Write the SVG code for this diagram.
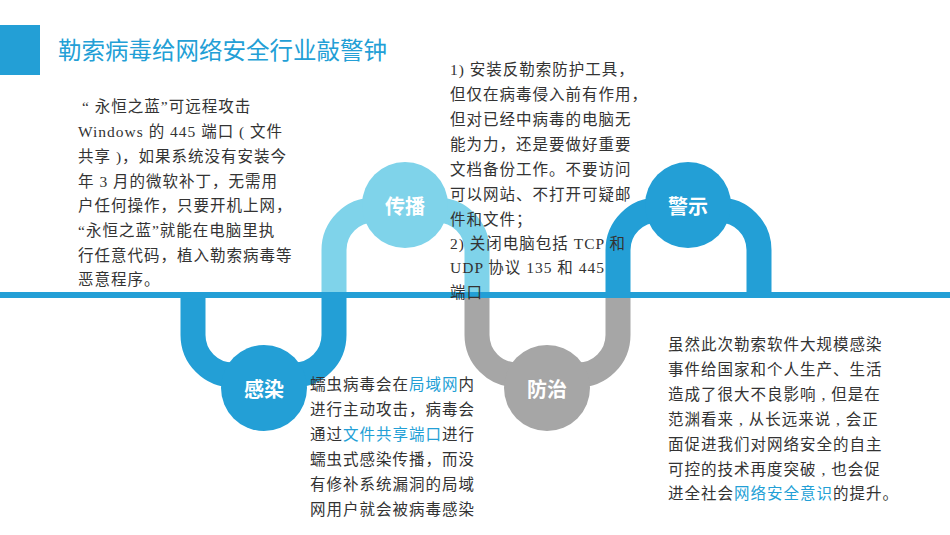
<svg xmlns="http://www.w3.org/2000/svg" width="950" height="535" viewBox="0 0 950 535">
<style>
.t{font-family:"Liberation Serif","Noto Sans CJK SC",serif;font-size:15.5px;fill:#333;letter-spacing:1px}
.hl{fill:#239fd6}
.lb{font-family:"Noto Sans CJK SC",sans-serif;font-size:20px;font-weight:bold;fill:#fff;text-anchor:middle;dominant-baseline:central}
.p{fill:none;stroke-width:25}
</style>
<rect width="950" height="535" fill="#fff"/>
<rect x="0" y="25" width="40" height="50" fill="#239fd6"/>
<text x="58" y="59" font-family="Noto Sans CJK SC,sans-serif" font-size="23.5" fill="#239fd6">勒索病毒给网络安全行业敲警钟</text>
<g id="connectors">
<path class="p" stroke="#239fd6" d="M193,295 V335 A40,40 0 0 0 233,375 H294 A40,40 0 0 0 334,335 V295"/>
<path class="p" stroke="#7fd3ea" d="M334,295 V250 A40,40 0 0 1 374,210 H437 A40,40 0 0 1 477,250 V295"/>
<path class="p" stroke="#a6a6a6" d="M477,295 V335 A40,40 0 0 0 517,375 H578 A40,40 0 0 0 618,335 V295"/>
<path class="p" stroke="#239fd6" d="M618,295 V250 A40,40 0 0 1 658,210 H719 A40,40 0 0 1 759,250 V295"/>
<rect x="0" y="292" width="950" height="6" fill="#239fd6"/>
</g>
<g id="n1"><circle cx="264" cy="388" r="43" fill="#239fd6"/><text class="lb" x="264" y="388">感染</text></g>
<g id="n2"><circle cx="405" cy="205" r="43" fill="#7fd3ea"/><text class="lb" x="405" y="205">传播</text></g>
<g id="n3"><circle cx="547" cy="388" r="43" fill="#a6a6a6"/><text class="lb" x="547" y="388">防治</text></g>
<g id="n4"><circle cx="688" cy="205" r="43" fill="#239fd6"/><text class="lb" x="688" y="205">警示</text></g>
<g id="txt1">
<text class="t" x="82" y="112">“ 永恒之蓝”可远程攻击</text>
<text class="t" x="78" y="137">Windows 的 445 端口 ( 文件</text>
<text class="t" x="78" y="162">共享 )，如果系统没有安装今</text>
<text class="t" x="78" y="187">年 3 月的微软补丁，无需用</text>
<text class="t" x="78" y="211">户任何操作，只要开机上网，</text>
<text class="t" x="78" y="236">“永恒之蓝”就能在电脑里执</text>
<text class="t" x="78" y="261">行任意代码，植入勒索病毒等</text>
<text class="t" x="78" y="285">恶意程序。</text>
</g>
<g id="txt2">
<text class="t" x="450" y="75">1) 安装反勒索防护工具，</text>
<text class="t" x="450" y="100">但仅在病毒侵入前有作用，</text>
<text class="t" x="450" y="125">但对已经中病毒的电脑无</text>
<text class="t" x="450" y="150">能为力，还是要做好重要</text>
<text class="t" x="450" y="175">文档备份工作。不要访问</text>
<text class="t" x="450" y="200">可以网站、不打开可疑邮</text>
<text class="t" x="450" y="225">件和文件；</text>
<text class="t" x="450" y="249">2)  关闭电脑包括 TCP 和</text>
<text class="t" x="450" y="273">UDP 协议 135 和 445</text>
<text class="t" x="450" y="298">端口</text>
</g>
<g id="txt3">
<text class="t" x="310" y="390">蠕虫病毒会在<tspan class="hl">局域网</tspan>内</text>
<text class="t" x="310" y="415">进行主动攻击，病毒会</text>
<text class="t" x="310" y="440">通过<tspan class="hl">文件共享端口</tspan>进行</text>
<text class="t" x="310" y="465">蠕虫式感染传播，而没</text>
<text class="t" x="310" y="490">有修补系统漏洞的局域</text>
<text class="t" x="310" y="515">网用户就会被病毒感染</text>
</g>
<g id="txt4">
<text class="t" x="668" y="350">虽然此次勒索软件大规模感染</text>
<text class="t" x="668" y="375">事件给国家和个人生产、生活</text>
<text class="t" x="668" y="400">造成了很大不良影响 , 但是在</text>
<text class="t" x="668" y="425">范渊看来 , 从长远来说 , 会正</text>
<text class="t" x="668" y="450">面促进我们对网络安全的自主</text>
<text class="t" x="668" y="475">可控的技术再度突破 , 也会促</text>
<text class="t" x="668" y="499">进全社会<tspan class="hl">网络安全意识</tspan>的提升。</text>
</g>
</svg>
